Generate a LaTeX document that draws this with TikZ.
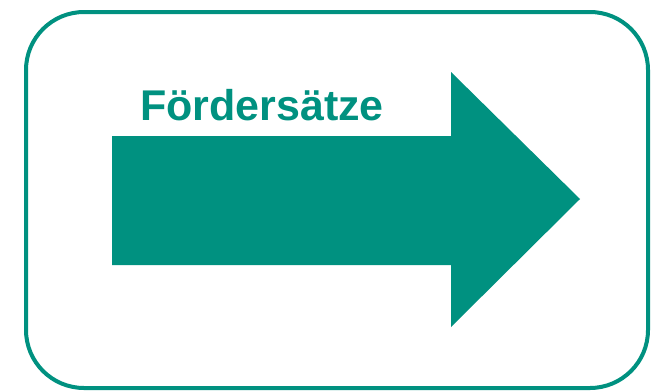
\documentclass[tikz,border=0pt]{standalone}
\usepackage{fontspec}
\setmainfont{Liberation Sans}
\usetikzlibrary{
    positioning,
    calc,
}
\definecolor{teal}{RGB}{0,145,128}

\begin{document}
\begin{tikzpicture}[
    x=1pt, y=-1pt,
    frame/.style={draw=teal, line width=4pt, rounded corners=58pt},
    bigarrow/.style={fill=teal, draw=none},
    caption/.style={text=teal, font=\bfseries\fontsize{43}{43}\selectfont, inner sep=0pt, anchor=base},
]
\useasboundingbox (0,0) rectangle (653,391);

\draw[frame] (26,12) rectangle (648,388);

\fill[bigarrow] (112,136) -- (451,136) -- (451,72) -- (580,199)
    -- (451,327) -- (451,265) -- (112,265) -- cycle;

\node[caption] (label) at (262,120) {Fördersätze};

\end{tikzpicture}
\end{document}
